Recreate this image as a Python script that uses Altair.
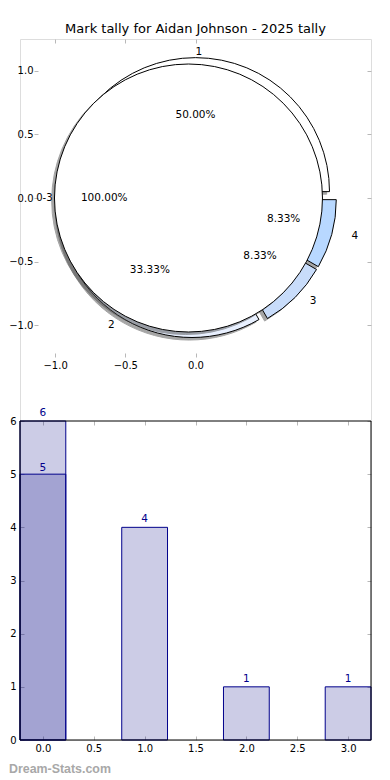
import altair as alt
import pandas as pd

# ---------------- data ----------------
TITLE = "Mark tally for Aidan Johnson - 2025 tally"
WATERMARK = "Dream-Stats.com"

PIE_LABELS = ["1", "2", "3", "4"]
PIE_VALUES = [6, 4, 1, 1]
INNER_LABELS = ["0-3"]
INNER_VALUES = [12]

BAR_X = [0, 1, 2, 3]
BAR_COUNTS = [6, 4, 1, 1]
OVERLAY_X = [0]
OVERLAY_COUNTS = [5]

PIE_X_TICKS = [-1.0, -0.5, 0.0]
PIE_Y_TICKS = [-1.0, -0.5, 0.0, 0.5, 1.0]
BAR_X_TICKS = [0.0, 0.5, 1.0, 1.5, 2.0, 2.5, 3.0]
BAR_Y_TICKS = [0, 1, 2, 3, 4, 5, 6]

# ---------------- styles / layout ----------------
SLICE_COLORS = ["#ffffff", "#e8f0ff", "#c8dcfa", "#b8d8ff"]
INNER_COLOR = "#ffffff"
SHADOW = "#4d4d4d"
TICK_GRAY = "#b8b8b8"
NAVY = "#000080"
EDGE_BLUE = "#00008b"
EXPLODE = 0.05
SHADOW_D = -0.02
LABEL_DIST = 1.1
INNER_LABEL_DIST = 0.968
PCT_DIST = 0.6
BAR_W = 0.45

W = 351          # plot width (px)
H = 701          # total plot height (px)
PIE_H = 318      # pixel height of pie panel
BAR_TOP = 382    # pixel top of bar panel
R_PX = 134       # pie radius in px
PIE_LIM = [-1.25, 1.25]
BAR_XLIM = [-BAR_W / 2, 3 + BAR_W / 2]
BAR_YLIM = [0, 6]

FONT = "DejaVu Sans"

pie_xs = alt.Scale(domain=PIE_LIM, range=[0, W], nice=False, zero=False)
pie_ys = alt.Scale(domain=PIE_LIM, range=[PIE_H, 0], nice=False, zero=False)
bar_xs = alt.Scale(domain=BAR_XLIM, range=[0, W], nice=False, zero=False)
bar_ys = alt.Scale(domain=BAR_YLIM, range=[H, BAR_TOP], nice=False, zero=False)

tick_common = dict(title=None, grid=False, domain=False, tickColor=TICK_GRAY,
                   tickSize=4, tickWidth=1, labelFontSize=10, labelColor="black",
                   labelFont=FONT, labelFlush=False)

ax_pie_bottom = alt.Axis(orient="bottom", values=PIE_X_TICKS, format=".1f",
                         offset=-(H - PIE_H) - 4, labelPadding=3, **tick_common)
ax_pie_top = alt.Axis(orient="top", values=PIE_X_TICKS, labels=False,
                      offset=-4, **tick_common)
ax_pie_left = alt.Axis(orient="left", values=PIE_Y_TICKS, format=".1f",
                       offset=-18, labelPadding=1, **tick_common)
ax_pie_right = alt.Axis(orient="right", values=PIE_Y_TICKS, labels=False,
                        offset=-4, **tick_common)

ax_bar_bottom = alt.Axis(orient="bottom", values=BAR_X_TICKS, format=".1f",
                         offset=-4, labelPadding=3, **tick_common)
ax_bar_top = alt.Axis(orient="top", values=BAR_X_TICKS, labels=False,
                      offset=-BAR_TOP - 4, **tick_common)
ax_bar_left = alt.Axis(orient="left", values=BAR_Y_TICKS, format="d",
                       offset=-4, labelPadding=4, **tick_common)
ax_bar_right = alt.Axis(orient="right", values=BAR_Y_TICKS, labels=False,
                        offset=-4, **tick_common)


def pie_base(df, label_dist):
    return (
        alt.Chart(df)
        .transform_window(cum="sum(value)", sort=[alt.SortField("idx")], frame=[None, 0])
        .transform_joinaggregate(total="sum(value)")
        .transform_calculate(
            f0="(datum.cum - datum.value) / datum.total",
            f1="datum.cum / datum.total",
        )
        .transform_calculate(
            mid="PI * (datum.f0 + datum.f1)",
            t1="PI / 2 - 2 * PI * datum.f1",
            t2="PI / 2 - 2 * PI * datum.f0",
            pct="format(100 * datum.value / datum.total, '.2f') + '%'",
        )
        .transform_calculate(
            cx=f"{EXPLODE} * cos(datum.mid)",
            cy=f"{EXPLODE} * sin(datum.mid)",
        )
        .transform_calculate(
            sx=f"datum.cx + ({SHADOW_D})",
            sy=f"datum.cy + ({SHADOW_D})",
            lx=f"datum.cx + {label_dist} * cos(datum.mid)",
            ly=f"datum.cy + {label_dist} * sin(datum.mid)",
            qx=f"datum.cx + {PCT_DIST} * cos(datum.mid)",
            qy=f"datum.cy + {PCT_DIST} * sin(datum.mid)",
        )
    )


def px(field, axis=None):
    return alt.X(f"{field}:Q", scale=pie_xs, axis=axis)


def py(field, axis=None):
    return alt.Y(f"{field}:Q", scale=pie_ys, axis=axis)


outer_df = pd.DataFrame({"label": PIE_LABELS, "value": PIE_VALUES,
                         "idx": list(range(len(PIE_LABELS)))})
inner_df = pd.DataFrame({"label": INNER_LABELS, "value": INNER_VALUES,
                         "idx": list(range(len(INNER_LABELS)))})

outer = pie_base(outer_df, LABEL_DIST)
inner = pie_base(inner_df, INNER_LABEL_DIST)

outer_shadow = outer.mark_arc(fill=SHADOW, opacity=0.5, stroke=SHADOW, strokeWidth=1).encode(
    x=px("sx", ax_pie_top), y=py("sy", ax_pie_right),
    theta=alt.Theta("t1:Q", scale=None), theta2=alt.Theta2("t2"),
    radius=alt.value(R_PX),
)
outer_arcs = outer.mark_arc(stroke="black", strokeWidth=1).encode(
    x=px("cx", ax_pie_bottom), y=py("cy", ax_pie_left),
    theta=alt.Theta("t1:Q", scale=None), theta2=alt.Theta2("t2"),
    radius=alt.value(R_PX),
    color=alt.Color("label:N", scale=alt.Scale(domain=PIE_LABELS, range=SLICE_COLORS),
                    legend=None),
)
inner_shadow = inner.mark_arc(fill=SHADOW, opacity=0.5, stroke=SHADOW, strokeWidth=1).encode(
    x=px("sx"), y=py("sy"),
    theta=alt.Theta("t1:Q", scale=None), theta2=alt.Theta2("t2"),
    radius=alt.value(R_PX),
)
inner_arc = inner.mark_arc(fill=INNER_COLOR, stroke="black", strokeWidth=1).encode(
    x=px("cx"), y=py("cy"),
    theta=alt.Theta("t1:Q", scale=None), theta2=alt.Theta2("t2"),
    radius=alt.value(R_PX),
)


def pie_texts(base, size):
    lab_r = base.transform_filter("cos(datum.mid) < 0").mark_text(
        align="right", baseline="middle", fontSize=size, font=FONT, color="black"
    ).encode(x=px("lx"), y=py("ly"), text="label:N")
    lab_l = base.transform_filter("cos(datum.mid) >= 0").mark_text(
        align="left", baseline="middle", fontSize=size, font=FONT, color="black"
    ).encode(x=px("lx"), y=py("ly"), text="label:N")
    pct = base.mark_text(
        align="center", baseline="middle", fontSize=10.5, font=FONT, color="black"
    ).encode(x=px("qx"), y=py("qy"), text="pct:N")
    return [lab_r, lab_l, pct]


pie_group = alt.layer(
    outer_shadow, outer_arcs, inner_shadow, inner_arc,
    *pie_texts(outer, 10.5), *pie_texts(inner, 10)
).resolve_axis(x="independent", y="independent")

# ---------------- bar panel ----------------
bars_df = pd.DataFrame({"x": BAR_X, "count": BAR_COUNTS})
over_df = pd.DataFrame({"x": OVERLAY_X, "count": OVERLAY_COUNTS})
frame_df = pd.DataFrame({"x0": [BAR_XLIM[0]], "x1": [BAR_XLIM[1]],
                         "y0": [BAR_YLIM[0]], "y1": [BAR_YLIM[1]]})


def bar_layer(df, axx=None, axy=None):
    return alt.Chart(df).transform_calculate(
        xl=f"datum.x - {BAR_W / 2}", xr=f"datum.x + {BAR_W / 2}", base="0"
    ).mark_bar(fill=NAVY, fillOpacity=0.2, stroke=EDGE_BLUE, strokeWidth=1).encode(
        x=alt.X("xl:Q", scale=bar_xs, axis=axx), x2=alt.X2("xr"),
        y=alt.Y("count:Q", scale=bar_ys, axis=axy), y2=alt.Y2("base"),
    )


def bar_text(df, dy, axx=None, axy=None):
    return alt.Chart(df).mark_text(
        dy=dy, align="center", baseline="alphabetic", fontSize=10.5, font=FONT, color=EDGE_BLUE
    ).encode(
        x=alt.X("x:Q", scale=bar_xs, axis=axx),
        y=alt.Y("count:Q", scale=bar_ys, axis=axy),
        text=alt.Text("count:Q", format="d"),
    )


frame = alt.Chart(frame_df).mark_rect(fillOpacity=0, stroke="black", strokeWidth=1).encode(
    x=alt.X("x0:Q", scale=bar_xs, axis=None), x2=alt.X2("x1"),
    y=alt.Y("y0:Q", scale=bar_ys, axis=None), y2=alt.Y2("y1"),
)

bar_group = alt.layer(
    bar_layer(bars_df, ax_bar_bottom, ax_bar_left),
    bar_layer(over_df),
    bar_text(bars_df, -5, ax_bar_top, ax_bar_right),
    bar_text(over_df, -3),
    frame,
).resolve_axis(x="independent", y="independent")

watermark = alt.Chart(pd.DataFrame({"t": [WATERMARK]})).mark_text(
    align="left", baseline="alphabetic", fontSize=12.4, fontWeight="bold",
    font="Liberation Sans", color="#a8a8a8"
).encode(x=alt.value(-11), y=alt.value(H + 33), text="t:N")

chart = alt.layer(pie_group, bar_group, watermark).resolve_scale(
    x="independent", y="independent"
).properties(
    width=W, height=H,
    title=alt.TitleParams(TITLE, fontSize=13, fontWeight="normal", font=FONT,
                          color="black", offset=3, anchor="middle"),
    autosize=alt.AutoSizeParams(type="none"),
    padding={"left": 12, "top": 31, "right": 11, "bottom": 38},
).configure_view(strokeWidth=0).configure(font=FONT, background="white")

chart.save("out.html", embed_options={"renderer": "svg", "actions": False})
